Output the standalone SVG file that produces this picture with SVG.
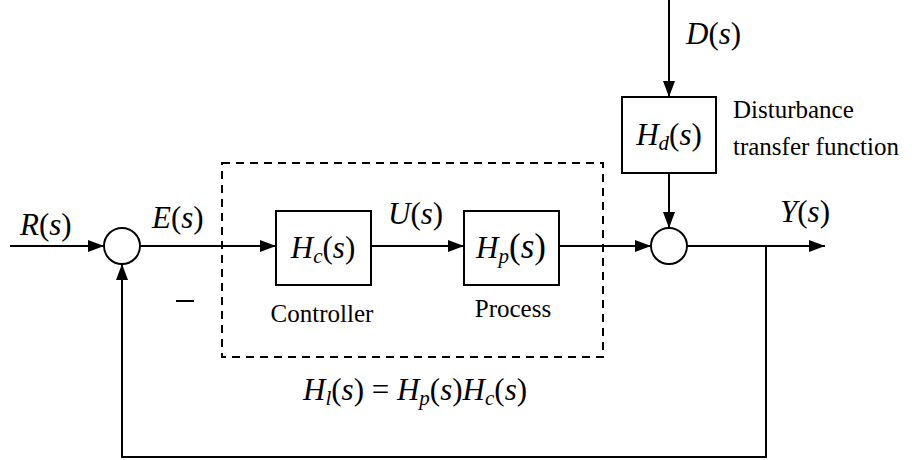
<svg xmlns="http://www.w3.org/2000/svg" width="912" height="460" viewBox="0 0 912 460">
<defs>
<marker id="arr" viewBox="0 0 16 12" refX="16" refY="6" markerWidth="16" markerHeight="12" markerUnits="userSpaceOnUse" orient="auto">
<path d="M0,0 L16,6 L0,12 Z" fill="#000"/>
</marker>
</defs>
<style>
.ln{stroke:#000;stroke-width:2;fill:none}
.bx{stroke:#000;stroke-width:2;fill:#fff}
.m{font-family:"Liberation Serif",serif;font-size:31px;fill:#000}
.i{font-style:italic}
.sub{font-size:21px;font-style:italic}
.t{font-family:"Liberation Serif",serif;font-size:25px;fill:#000}
</style>
<rect x="0" y="0" width="912" height="460" fill="#fff"/>
<g id="loop">
<rect x="222" y="163" width="381" height="194" fill="none" stroke="#000" stroke-width="2" stroke-dasharray="8,6"/>
</g>
<g id="connectors">
<line class="ln" x1="10" y1="246" x2="104" y2="246" marker-end="url(#arr)"/>
<line class="ln" x1="140" y1="246" x2="276" y2="246" marker-end="url(#arr)"/>
<line class="ln" x1="371" y1="246" x2="464" y2="246" marker-end="url(#arr)"/>
<line class="ln" x1="559" y1="246" x2="651" y2="246" marker-end="url(#arr)"/>
<line class="ln" x1="687" y1="246" x2="825" y2="246" marker-end="url(#arr)"/>
<line class="ln" x1="669" y1="0" x2="669" y2="97" marker-end="url(#arr)"/>
<line class="ln" x1="669" y1="173" x2="669" y2="228" marker-end="url(#arr)"/>
<polyline class="ln" points="766,246 766,457 122,457 122,264" marker-end="url(#arr)"/>
</g>
<g id="sum1"><circle class="bx" cx="122" cy="246" r="18"/></g>
<g id="sum2"><circle class="bx" cx="669" cy="246" r="18"/></g>
<g id="controller">
<rect class="bx" x="276" y="211" width="95" height="74"/>
<text class="m" x="323" y="258" text-anchor="middle"><tspan class="i">H</tspan><tspan class="sub" dy="5">c</tspan><tspan dy="-5">(<tspan class="i">s</tspan>)</tspan></text>
<text class="t" x="322" y="322" text-anchor="middle">Controller</text>
</g>
<g id="process">
<rect class="bx" x="464" y="211" width="95" height="74"/>
<text class="m" x="511" y="258" text-anchor="middle"><tspan class="i">H</tspan><tspan class="sub" dy="5">p</tspan><tspan dy="-5" font-size="35">(<tspan class="i">s</tspan>)</tspan></text>
<text class="t" x="513" y="317" text-anchor="middle">Process</text>
</g>
<g id="disturbance">
<rect class="bx" x="622" y="97" width="94" height="76"/>
<text class="m" x="669" y="145" text-anchor="middle"><tspan class="i">H</tspan><tspan class="sub" dy="5">d</tspan><tspan dy="-5">(<tspan class="i">s</tspan>)</tspan></text>
<text class="t" x="733" y="118">Disturbance</text>
<text class="t" x="733" y="155">transfer function</text>
</g>
<g id="labels">
<text class="m" x="20" y="235"><tspan class="i">R</tspan>(<tspan class="i">s</tspan>)</text>
<text class="m" x="152" y="228"><tspan class="i">E</tspan>(<tspan class="i">s</tspan>)</text>
<text class="m" x="388" y="224"><tspan class="i">U</tspan>(<tspan class="i">s</tspan>)</text>
<text class="m" x="780" y="222"><tspan class="i">Y</tspan>(<tspan class="i">s</tspan>)</text>
<text class="m" x="686" y="44"><tspan class="i">D</tspan>(<tspan class="i">s</tspan>)</text>
<line x1="176" y1="301" x2="194" y2="301" stroke="#000" stroke-width="2"/>
<text class="m" x="303" y="400" font-size="32"><tspan class="i">H</tspan><tspan class="sub" dy="5">l</tspan><tspan dy="-5">(<tspan class="i">s</tspan>) = </tspan><tspan class="i">H</tspan><tspan class="sub" dy="5">p</tspan><tspan dy="-5">(<tspan class="i">s</tspan>)</tspan><tspan class="i">H</tspan><tspan class="sub" dy="5">c</tspan><tspan dy="-5">(<tspan class="i">s</tspan>)</tspan></text>
</g>
</svg>
